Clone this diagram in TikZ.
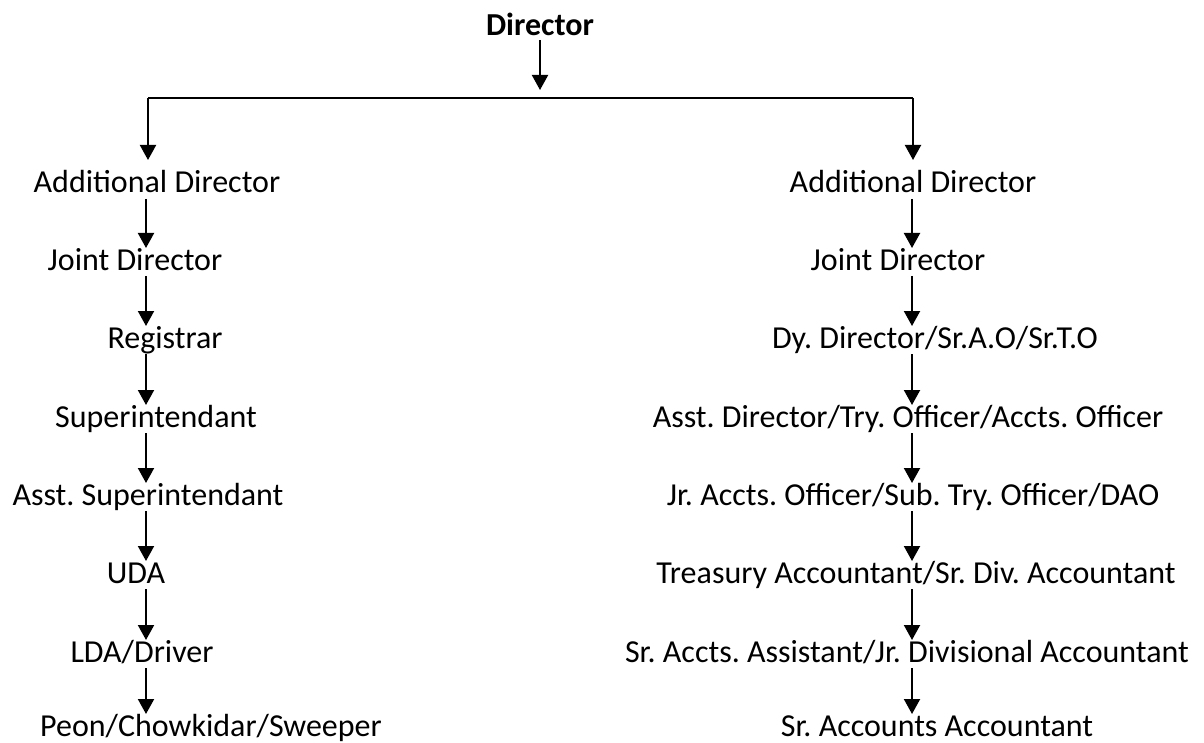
\documentclass[tikz,border=0pt]{standalone}
\usepackage{fontspec}
\setmainfont{Carlito}
\frenchspacing
\usetikzlibrary{arrows.meta}
\begin{document}
\begin{tikzpicture}[x=1pt,y=-1pt,
  lbl/.style={anchor=base,inner sep=0pt,font=\fontsize{32}{38}\selectfont},
  arr/.style={-{Triangle[width=16pt,length=15pt]},line width=2pt},
  ln/.style={line width=2pt}]
\useasboundingbox (0,0) rectangle (1204,743);
\node[lbl,font=\fontsize{32}{38}\selectfont\bfseries] (dir) at (540,36) {Director};
\coordinate (hl) at (148,98);
\coordinate (hr) at (913,98);
\coordinate (hm) at (540,98);
% left column
\node[lbl] (l1) at (157,193) {Additional Director};
\node[lbl] (l2) at (135,270) {Joint Director};
\node[lbl] (l3) at (165,348) {Registrar};
\node[lbl] (l4) at (156,427) {Superintendant};
\node[lbl] (l5) at (148,505) {Asst. Superintendant};
\node[lbl] (l6) at (136,583) {UDA};
\node[lbl] (l7) at (142,662) {LDA/Driver};
\node[lbl] (l8) at (211,736) {Peon/Chowkidar/Sweeper};
% right column
\node[lbl] (r1) at (913,193) {Additional Director};
\node[lbl] (r2) at (898,270) {Joint Director};
\node[lbl] (r3) at (935,348) {Dy. Director/Sr.A.O/Sr.T.O};
\node[lbl] (r4) at (908,427) {Asst. Director/Try. Officer/Accts. Officer};
\node[lbl] (r5) at (913,505) {Jr. Accts. Officer/Sub. Try. Officer/DAO};
\node[lbl] (r6) at (916,583) {Treasury Accountant/Sr. Div. Accountant};
\node[lbl] (r7) at (907,662) {Sr. Accts. Assistant/Jr. Divisional Accountant};
\node[lbl] (r8) at (937,736) {Sr. Accounts Accountant};
% top
\draw[arr] ([yshift=-4pt]dir.base) -- ([yshift=8pt]hm);
\draw[ln] (hl) -- (hr);
\draw[arr] (hl) -- ([yshift=33pt]l1.base -| hl);
\draw[arr] (hr) -- ([yshift=33pt]r1.base -| hr);
% left arrows
\foreach \a/\b in {l1/l2,l2/l3,l3/l4,l4/l5,l5/l6,l6/l7,l7/l8}
  \draw[arr] ([yshift=-6pt]\a.base -| 146,0) -- ([yshift=22pt]\b.base -| 146,0);
% right arrows
\foreach \a/\b in {r1/r2,r2/r3,r3/r4,r4/r5,r5/r6,r6/r7,r7/r8}
  \draw[arr] ([yshift=-6pt]\a.base -| 912,0) -- ([yshift=22pt]\b.base -| 912,0);
\end{tikzpicture}
\end{document}
